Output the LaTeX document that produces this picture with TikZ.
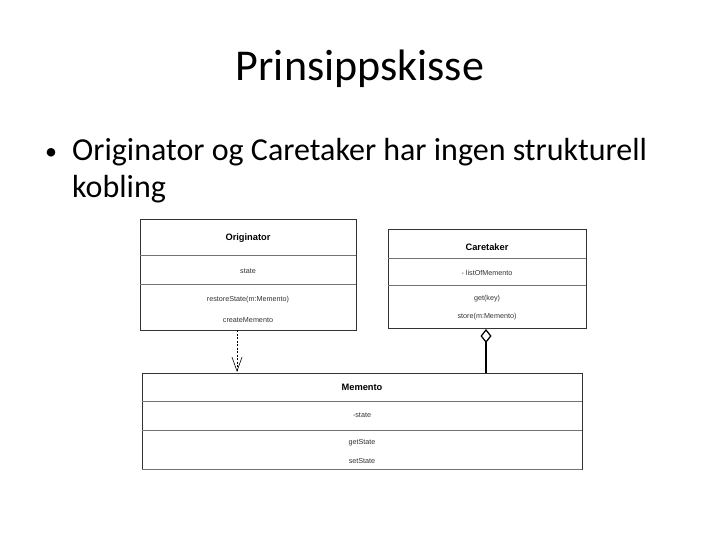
\documentclass[tikz,border=0pt]{standalone}
\usepackage{fontspec}
\setmainfont{Carlito}
\newfontfamily\umlfont{Liberation Sans}
\usetikzlibrary{arrows.meta}
\begin{document}
\begin{tikzpicture}[x=1pt,y=-1pt,
  umltxt/.style={font=\umlfont\fontsize{7.2}{8}\selectfont,text=black!80,inner sep=0pt},
  umlbold/.style={font=\umlfont\bfseries\fontsize{9.3}{11}\selectfont,text=black,inner sep=0pt},
  outer/.style={draw=black!80,line width=0.9pt},
  divider/.style={draw=black!55,line width=0.6pt}]
\useasboundingbox (0,0) rectangle (720,540);
% title and bullet
\node[font=\fontsize{44}{52}\selectfont,inner sep=0pt] (title) at (360,69) {Prinsippskisse};
\node[font=\fontsize{24}{30}\selectfont,anchor=base west,inner sep=0pt] (bullet) at (45,160) {•};
\node[font=\fontsize{32}{38}\selectfont,anchor=base west,inner sep=0pt,align=left] (txt) at (72,161) {Originator og Caretaker har ingen strukturell};
\node[font=\fontsize{32}{38}\selectfont,anchor=base west,inner sep=0pt] (txt2) at (72,198) {kobling};
% Originator
\draw[outer] (140,219) rectangle (356,330);
\draw[divider] (140,255) -- (356,255);
\draw[divider] (140,284) -- (356,284);
\node[umlbold] (orig) at (248,238) {Originator};
\node[umltxt] (ostate) at (248,271) {state};
\node[umltxt] (orest) at (248,300) {restoreState(m:Memento)};
\node[umltxt] (ocreate) at (248,320) {createMemento};
% Caretaker
\draw[outer] (388,229) rectangle (586,328);
\draw[divider] (388,258) -- (586,258);
\draw[divider] (388,285) -- (586,285);
\node[umlbold] (care) at (487,247) {Caretaker};
\node[umltxt] (clist) at (487,273) {- listOfMemento};
\node[umltxt] (cget) at (487,299) {get(key)};
\node[umltxt] (cstore) at (487,317) {store(m:Memento)};
% Memento
\draw[outer] (142,470) -- (142,373) -- (582,373) -- (582,470);
\draw[divider] (142,401) -- (582,401);
\draw[divider] (142,430) -- (582,430);
\draw[divider] (142,469) -- (582,469);
\node[umlbold] (mem) at (362,387) {Memento};
\node[umltxt] (mstate) at (362,415) {-state};
\node[umltxt] (mget) at (362,443) {getState};
\node[umltxt] (mset) at (362,461) {setState};
% connectors
\coordinate (o1) at (237,330);
\coordinate (m1) at (237,372);
\draw[dashed,dash pattern=on 2pt off 1.5pt,line width=0.6pt,-{Straight Barb[length=14pt,width=10pt,line width=0.6pt]}] (o1) -- (m1);
\coordinate (c1) at (486,329);
\coordinate (m2) at (486,373);
\draw[line width=1.5pt,{Diamond[open,length=14pt,width=11pt,line width=1.2pt,fill=white]}-] (c1) -- (m2);
\end{tikzpicture}
\end{document}
